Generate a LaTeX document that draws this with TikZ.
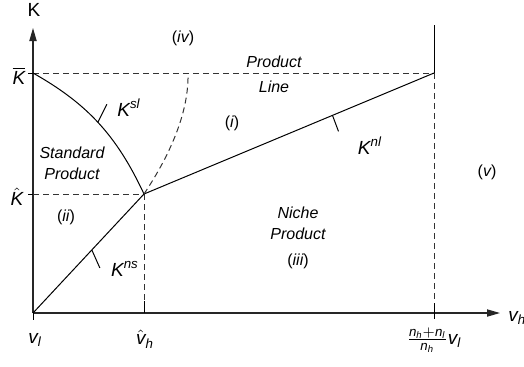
\documentclass[tikz,border=0pt]{standalone}
\usepackage{amsmath}
\usepackage{fontspec}
\setmainfont{Liberation Sans}
\usepackage{tikz}
\usetikzlibrary{arrows.meta,calc}
\newcommand{\vit}[1]{\text{\itshape #1}}
\tikzset{
  axisarrow/.style={-{Triangle[length=6.5pt,width=3.6pt]}, line width=0.6pt, black!85},
  curve/.style={line width=0.5pt},
  guideline/.style={dashed, dash pattern=on 3pt off 2pt, line width=0.5pt, black!80},
  tickmark/.style={line width=0.5pt},
  regionlabel/.style={font=\fontsize{8}{10.5}\selectfont\itshape, align=center, inner sep=0pt},
  axislabel/.style={font=\fontsize{9.5}{11}\selectfont, inner sep=0pt},
}

\begin{document}
\begin{tikzpicture}[x=0.5pt, y=-0.5pt]
  \useasboundingbox (0,0) rectangle (524,366);
  % key points
  \coordinate (O) at (33,313);
  \coordinate (Ytop) at (33,28);
  \coordinate (Xend) at (500,313);
  \coordinate (Kbar) at (33,73);
  \coordinate (Khat) at (33,194);
  \coordinate (P) at (144,194);
  \coordinate (T) at (188,73);
  \coordinate (R) at (434,73);
  \coordinate (Rtop) at (434,25);
  \coordinate (Rtick) at (434,303);
  \coordinate (Rfoot) at (434,319);
  \coordinate (Vhtick) at (144,301);
  \coordinate (Vh) at (144,313);
  \coordinate (Vl) at (33,320);
  % axes
  \draw[axisarrow] (O) -- (Ytop);
  \draw[axisarrow] (O) -- (Xend);
  \draw[tickmark] (O) -- (Vl);
  \draw[tickmark] (Vhtick) -- (Vh);
  \draw[tickmark] (Rtick) -- (Rfoot);
  \draw[tickmark] (Kbar) -- ++(-5,0);
  \draw[tickmark] (Khat) -- ++(-5,0);
  % guides
  \draw[guideline] (Kbar) -- (R);
  \draw[guideline] (Khat) -- (P);
  \draw[guideline] (P) -- (Vhtick);
  \draw[guideline] (R) -- (Rtick);
  \draw[curve] (Rtop) -- (R);
  % boundaries
  \draw[curve] (O) -- coordinate[pos=0.53] (ns) (P);
  \draw[curve] (P) -- coordinate[pos=0.65] (nl) (R);
  \draw[curve] (Kbar) .. controls (86,103) and (116,134) .. coordinate[pos=0.5] (sl) (P);
  \draw[guideline] (P) .. controls (172,152) and (189,110) .. (T);
  \draw[tickmark] (ns) -- ++(8,18);
  \draw[tickmark] (nl) -- ++(6,16);
  \draw[tickmark] (sl) -- ++(9,-18);
  % axis labels
  \node[axislabel] (lK) at (34,10) {K};
  \node[axislabel] (lKbar) at (19,76) {$\overline{\vit{K}}$};
  \node[axislabel] (lKhat) at (17,197) {$\hat{\vit{K}}$};
  \node[axislabel] (lvl) at (35,340) {$\vit{v}_{\vit{l}}$};
  \node[axislabel] (lvhat) at (145,339) {$\hat{\vit{v}}_{\vit{h}}$};
  \node[axislabel] (lfrac) at (434,340) {$\frac{\vit{n}_{\vit{h}}+\vit{n}_{\vit{l}}}{\vit{n}_{\vit{h}}}\vit{v}_{\vit{l}}$};
  \node[axislabel, anchor=west] (lvh) at (508,318) {$\vit{v}_{\vit{h}}$};
  % curve labels
  \node[axislabel] (lsl) at (129,108) {$\vit{K}^{\vit{sl}}$};
  \node[axislabel] (lnl) at (370,146) {$\vit{K}^{\vit{nl}}$};
  \node[axislabel] (lns) at (125,269) {$\vit{K}^{\vit{ns}}$};
  % regions
  \node[regionlabel] (rstd) at (72,163) {Standard\\Product};
  \node[regionlabel] (rline) at (274,74) {Product\\[2pt]Line};
  \node[regionlabel] (rniche) at (298,223) {Niche\\Product};
  \node[regionlabel] (ri) at (232,123) {\upshape(\itshape i\upshape)};
  \node[regionlabel] (rii) at (66,217) {\upshape(\itshape ii\upshape)};
  \node[regionlabel] (riii) at (298,261) {\upshape(\itshape iii\upshape)};
  \node[regionlabel] (riv) at (183,38) {\upshape(\itshape iv\upshape)};
  \node[regionlabel] (rv) at (487,172) {\upshape(\itshape v\upshape)};
\end{tikzpicture}
\end{document}
